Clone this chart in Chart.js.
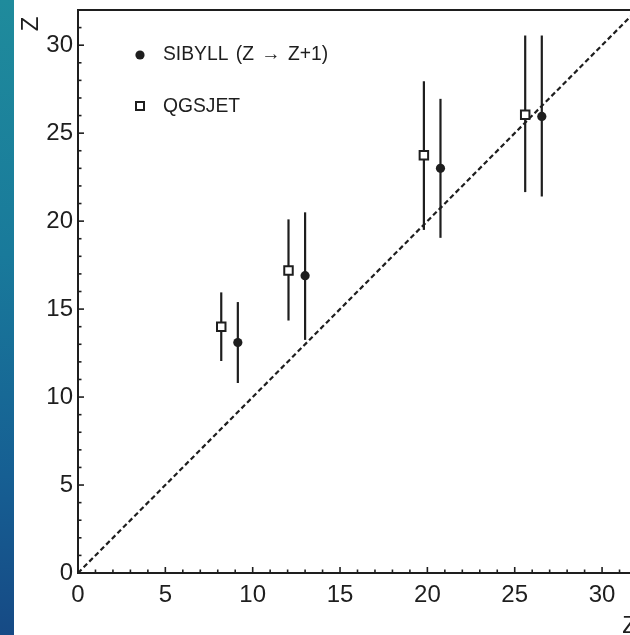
<!DOCTYPE html>
<html>
<head>
<meta charset="utf-8">
<script src="https://cdn.jsdelivr.net/npm/chart.js@4.4.1/dist/chart.umd.min.js"></script>
<style>
  html, body { margin: 0; padding: 0; background: #ffffff; overflow: hidden; width: 630px; height: 635px; }
  #wrap { position: absolute; left: 0; top: 0; width: 646px; height: 650px; }
  #strip { position: absolute; left: 0; top: 0; width: 14px; height: 635px;
           background: linear-gradient(to bottom, #1f8b9c 0%, #197a9b 40%, #165f93 75%, #164a85 100%); }
</style>
</head>
<body>
<div id="wrap"><canvas id="c" width="646" height="650"></canvas></div>
<div id="strip"></div>
<script>
// ---- data ----
const sibyllZ  = [9.15, 13.0, 20.75, 26.55];
const sibyllY  = [13.1, 16.9, 23.0, 25.95];
const sibyllLo = [10.8, 13.25, 19.05, 21.4];
const sibyllHi = [15.4, 20.5, 26.95, 30.55];

const qgsjetZ  = [8.2, 12.05, 19.8, 25.6];
const qgsjetY  = [14.0, 17.2, 23.75, 26.05];
const qgsjetLo = [12.05, 14.35, 19.5, 21.65];
const qgsjetHi = [15.95, 20.1, 27.95, 30.55];

const diagonal = [0, 32];
const axisMin = 0, axisMax = 32;
const majorStep = 5;

const labelSibyll = 'SIBYLL (Z \u2192 Z+1)';
const labelQgsjet = 'QGSJET';
const axisTitle = 'Z';

const INK = '#1e1e1e';
const FONT = '"Liberation Sans", Arial, Helvetica, sans-serif';

const toPts = (xs, ys) => xs.map((x, i) => ({x: x, y: ys[i]}));

const errorBars = {
  id: 'errorBars',
  beforeDatasetsDraw(chart) {
    const {ctx, scales: {x, y}} = chart;
    ctx.save();
    ctx.strokeStyle = INK;
    ctx.lineWidth = 2.2;
    const draw = (xs, lo, hi) => {
      xs.forEach((v, i) => {
        const px = x.getPixelForValue(v);
        ctx.beginPath();
        ctx.moveTo(px, y.getPixelForValue(lo[i]));
        ctx.lineTo(px, y.getPixelForValue(hi[i]));
        ctx.stroke();
      });
    };
    draw(qgsjetZ, qgsjetLo, qgsjetHi);
    draw(sibyllZ, sibyllLo, sibyllHi);
    ctx.restore();
  }
};

const frameTicks = {
  id: 'frameTicks',
  afterDraw(chart) {
    const {ctx, chartArea: a, scales: {x, y}} = chart;
    ctx.save();
    ctx.strokeStyle = INK;
    ctx.lineWidth = 2;
    ctx.beginPath();
    ctx.moveTo(a.left, a.top); ctx.lineTo(a.right, a.top);
    ctx.moveTo(a.right, a.top); ctx.lineTo(a.right, a.bottom);
    ctx.stroke();
    ctx.lineWidth = 1.6;
    x.ticks.forEach(t => {
      const px = x.getPixelForValue(t.value);
      const len = t.value % majorStep === 0 ? 6 : 3.5;
      ctx.beginPath(); ctx.moveTo(px, a.bottom); ctx.lineTo(px, a.bottom - len); ctx.stroke();
    });
    y.ticks.forEach(t => {
      const py = y.getPixelForValue(t.value);
      const len = t.value % majorStep === 0 ? 6 : 3.5;
      ctx.beginPath(); ctx.moveTo(a.left, py); ctx.lineTo(a.left + len, py); ctx.stroke();
    });
    ctx.restore();
  }
};

const legendBox = {
  id: 'legendBox',
  afterDraw(chart) {
    const {ctx, chartArea: a} = chart;
    ctx.save();
    const mx = a.left + 62, tx = a.left + 85;
    const y1 = a.top + 45, y2 = a.top + 96;
    ctx.fillStyle = INK;
    ctx.beginPath(); ctx.arc(mx, y1, 4.6, 0, Math.PI * 2); ctx.fill();
    ctx.strokeStyle = INK; ctx.lineWidth = 2; ctx.fillStyle = '#fff';
    ctx.beginPath(); ctx.rect(mx - 4, y2 - 4, 8, 8); ctx.fill(); ctx.stroke();
    ctx.fillStyle = INK;
    ctx.font = '19.3px ' + FONT;
    ctx.textBaseline = 'alphabetic';
    ctx.textAlign = 'left';
    if ('wordSpacing' in ctx) ctx.wordSpacing = '2px';
    ctx.fillText(labelSibyll, tx, y1 + 4.5);
    if ('wordSpacing' in ctx) ctx.wordSpacing = '0px';
    ctx.fillText(labelQgsjet, tx, y2 + 5.5);
    ctx.restore();
  }
};

const tickFont = {family: FONT, size: 24};

new Chart(document.getElementById('c'), {
  type: 'scatter',
  data: {
    datasets: [
      {
        label: labelQgsjet,
        data: toPts(qgsjetZ, qgsjetY),
        pointStyle: 'rect',
        pointRadius: 6,
        pointBackgroundColor: '#ffffff',
        pointBorderColor: INK,
        pointBorderWidth: 2,
        order: 1
      },
      {
        label: labelSibyll,
        data: toPts(sibyllZ, sibyllY),
        pointStyle: 'circle',
        pointRadius: 4.6,
        pointBackgroundColor: INK,
        pointBorderColor: INK,
        pointBorderWidth: 0,
        order: 0
      },
      {
        label: 'Z = Z',
        type: 'line',
        data: toPts(diagonal, diagonal),
        borderColor: INK,
        borderWidth: 2.2,
        borderDash: [5, 3],
        pointRadius: 0,
        fill: false,
        order: 5
      }
    ]
  },
  options: {
    responsive: false,
    animation: false,
    layout: {padding: {left: 0, right: 9, top: 10, bottom: 0}},
    plugins: {legend: {display: false}, tooltip: {enabled: false}},
    scales: {
      x: {
        type: 'linear', position: 'bottom', min: axisMin, max: axisMax,
        grid: {display: false, drawTicks: false},
        border: {display: true, color: INK, width: 2},
        ticks: {
          stepSize: 1, autoSkip: false, maxRotation: 0, padding: 8,
          color: INK, font: tickFont,
          callback: v => (v % majorStep === 0 ? String(v) : '')
        },
        title: {display: true, text: axisTitle, align: 'end', color: INK, font: tickFont, padding: {top: 0, bottom: 9.6}},
        afterFit: s => { s.height = 77; s.paddingLeft = 0; s.paddingRight = 0; }
      },
      y: {
        type: 'linear', position: 'left', min: axisMin, max: axisMax,
        grid: {display: false, drawTicks: false},
        border: {display: true, color: INK, width: 2},
        ticks: {
          stepSize: 1, autoSkip: false, padding: 5,
          color: INK, font: tickFont,
          callback: v => (v % majorStep === 0 ? String(v) : '')
        },
        title: {display: true, text: axisTitle + ' ', align: 'end', color: INK, font: tickFont, padding: {top: 17, bottom: 0}},
        afterFit: s => { s.width = 78; s.paddingTop = 0; s.paddingBottom = 0; }
      }
    }
  },
  plugins: [errorBars, frameTicks, legendBox]
});
</script>
</body>
</html>
